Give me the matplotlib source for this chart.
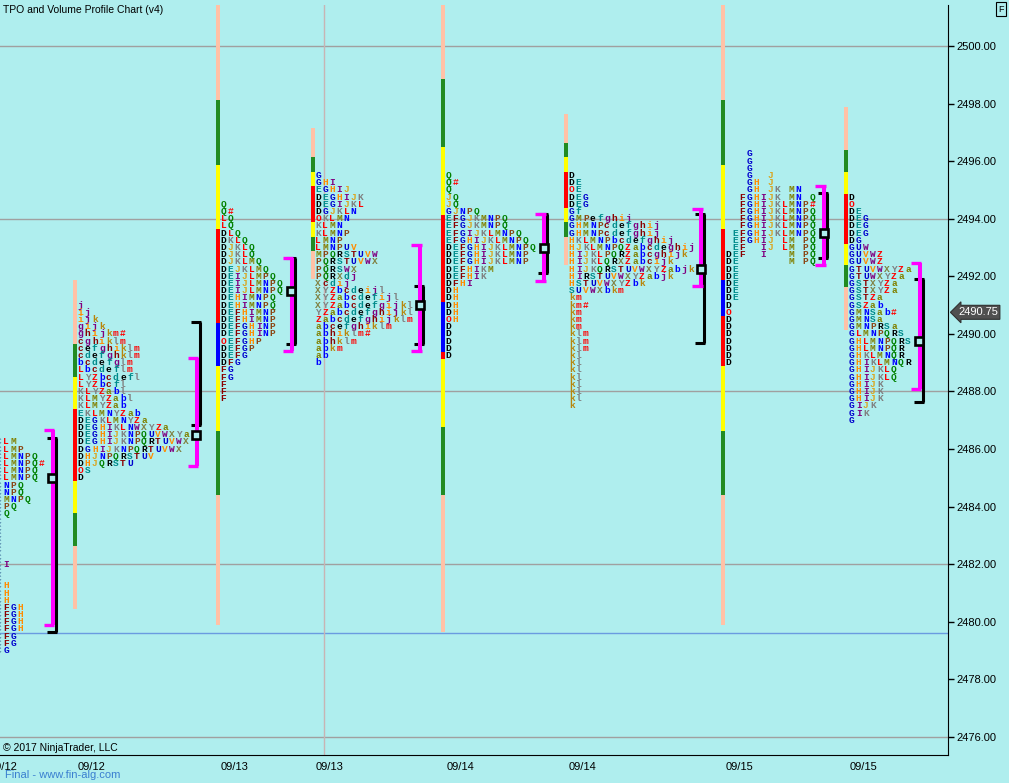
import matplotlib
matplotlib.use("Agg")
import matplotlib.pyplot as plt
from matplotlib.transforms import blended_transform_factory

BG = "#AFEEEE"
TICK = 0.25          # one TPO row = one price tick
COL = 7.03           # width of one letter column (chart x units)

# ---------------- data ----------------
date_labels = ["09/12", "09/12", "09/13", "09/13", "09/14", "09/14", "09/15", "09/15"]
date_pos = [4, 92, 235, 330, 461, 583, 740, 864]

price_ticks = [2476, 2478, 2480, 2482, 2484, 2486, 2488, 2490, 2492, 2494, 2496, 2498, 2500]
grid_prices = [2500, 2494, 2488, 2482, 2476]
ref_price = 2479.6
last_price = 2490.75

# x slot of each profile (first letter column) and of its volume bar
prof_x = [-1.0, 80.7, 223.5, 318.3, 448.3, 571.7, 728.3, 851.7]
bar_x = [None, 75, 218, 313, 443, 566, 723, 846]

# top price of each profile
prof_top = [2486.25, 2491.0, 2494.5, 2495.5, 2495.5, 2495.5, 2496.25, 2494.75]

p1_rows = ["CLM", "CLMP", "CLMNPQ", "CLMNPQ#", "CLMNPQ", "CLMNPQ", "CNPQ", "CNPQ",
           "CMNPQ", "CPQ", "CQ", "C", "C", "C", "C", "C", "C", "CI", "C", "C",
           "CH", "CH", "CH", "CFGH", "CFGH", "CFGH", "CFGH", "CFG", "CFG", "CG"]
p2_rows = ["j", "ij", "ijk", "gijk", "ghijkm#", "cghiklm", "cefghiklm", "cdefghklm",
           "bcdefglm", "Lbcdeflm", "LYZbcdefl", "LYZbcfl", "KLYZabl", "KLMYZabl",
           "KLMYZab", "EKLMNYZab", "DEGKLMNYZa", "DEGHIKLNWXYZa", "DEGHIJKNPQUVWXYa",
           "DEGHIJKNPQRTUVWX", "DGHIJKNPQRTUVWX", "DHJNPQRSTUV", "DHJQRSTU", "OS", "D"]
p3_rows = ["Q", "Q#", "LQ", "LQ", "DLQ", "DKLQ", "DJKLQ", "DJKLQ", "DJKLMQ", "DEJKLMQ",
           "DEIJLMPQ", "DEIJLMNPQ", "DEIJLMNPQ", "DEHIMNPQ", "DEHIMNPQ", "DEFHIMNP",
           "DEFHIMNP", "DEFGHINP", "DEFGHINP", "OEFGHP", "DEFGP", "DEFG", "DFG", "FG",
           "FG", "F", "F", "F"]
p4_rows = ["G", "GHI", "EGHIJ", "DEGHIJK", "DEGIJKL", "DGJKLN", "OKLMN", "KLMN", "KLMNP",
           "LMNP", "LMNPUV", "MPQRSTUVW", "PQRSTUVWX", "PQRSWX", "PQRXdj", "Xcdij",
           "XYZbcdeijl", "XYZabcdefijl", "XYZabcdefgijkl", "YZabcdefghijkl",
           "Zabcdefghijklm", "abcefghiklm", "abhiklm#", "abhklm", "abkm", "ab", "b"]
p5_rows = ["Q", "Q#", "Q", "JQ", "JQ", "GJNPQ", "EFGJKMNPQ", "EFGJKMNPQ", "EFGIJKLMNPQ",
           "EFGHIJKLMNPQ", "DEFGHIJKLMNPQ", "DEFGHIJKLMNP", "DEFGHIJKLMNP", "DEFHIKM",
           "DEFHIK", "DFHI", "DH", "DH", "DH", "DH", "OH", "D", "D", "D", "D", "D"]
p6_rows = ["D", "DE", "OE", "DEG", "DEG", "Gf", "GMPefghij", "GHMNPcdefghij",
           "GHMNPcdefghij", "HKLMNPbcdefghij", "HJKLMNPQZabcdeghij", "HIJKLPQRZabcghijk",
           "HIJKLQRXZabcijk", "HIJKQRSTUVWXYZabjk", "HIRSTUVWXYZabjk", "HSTUVWXYZbk",
           "SUVWXbkm", "km", "km#", "km", "km", "km", "klm", "klm", "klm", "kl", "kl",
           "kl", "kl", "kl", "kl", "kl", "k"]
p7_rows = ["   G", "   G", "   G", "   G  J", "   GH J", "   GH JK MN", "  FGHIJK MN Q",
           "  FGHIJKLMNP#", "  FGHIJKLMNPQ", "  FGHIJKLMNPQ", "  FGHIJKLMNPQ",
           " EFGHIJKLMNPQ", " EFGHIJ LM PQ", " EF  IJ LM PQ", "DEF  I   M PQ",
           "DE       M PQ", "DE", "DE", "DE", "DE", "DE", "D", "O", "D", "D", "D", "D",
           "D", "D", "D"]
p8_rows = ["D", "O", "DE", "DEG", "DEG", "DEG", "DG", "GUW", "GUVWZ", "GUVWZ", "GTUVWXYZa",
           "GTUWXYZa", "GSTXYZa", "GSTXYZa", "GSTZa", "GSZab", "GMNSab#", "GMNSa",
           "GMNPRSa", "GLMNPQRS", "GHLMNPQRS", "GHLMNPQR", "GHKLMNQR", "GHIKLMNQR",
           "GHIJKLQ", "GHIJKLQ", "GHIJK", "GHIJK", "GHIJK", "GIJK", "GIK", "G"]
prof_rows = [p1_rows, p2_rows, p3_rows, p4_rows, p5_rows, p6_rows, p7_rows, p8_rows]

# volume bar: zone boundaries (top -> bottom) and zone codes
bar_edges = [
    None,
    [2491.87, 2489.65, 2488.50, 2487.39, 2484.89, 2483.78, 2482.63, 2480.44],
    [2501.6, 2498.12, 2495.87, 2493.64, 2490.38, 2488.89, 2486.63, 2484.40, 2479.89],
    [2497.15, 2496.14, 2495.62, 2495.14, 2493.89, 2493.37, 2492.88, 2491.91],
    [2501.6, 2498.85, 2496.49, 2494.13, 2491.11, 2489.37, 2489.13, 2486.77, 2484.40, 2479.65],
    [2497.64, 2496.63, 2496.14, 2495.62, 2494.37, 2493.89, 2493.37, 2492.39],
    [2501.6, 2498.12, 2495.87, 2493.64, 2491.87, 2490.62, 2488.89, 2486.63, 2484.40, 2479.89],
    [2497.88, 2496.39, 2495.62, 2494.86, 2493.12, 2492.39, 2491.63, 2490.14],
]
bar_zones = [None, "sgyrygs", "sgyrbygs", "sgyrygs", "sgyrbrygs", "sgyrygs",
             "sgyrbrygs", "sgyrygs"]

# value area (magenta) and range (black) brackets, POC box
va_x = [53, 197, 292, 420.5, 544.5, 701.5, 824.5, 920]
va_top = [2486.65, 2489.15, 2492.65, 2493.10, 2494.15, 2494.35, 2495.15, 2492.45]
va_bot = [2479.90, 2485.40, 2489.40, 2489.40, 2491.85, 2491.65, 2492.40, 2488.10]
rng_top = [2486.40, 2490.40, 2492.65, 2491.65, 2494.15, 2494.15, 2494.90, 2491.90]
rng_bot = [2479.65, 2486.85, 2489.65, 2489.65, 2492.10, 2489.70, 2492.65, 2487.65]
poc = [2485.0, 2486.5, 2491.5, 2491.0, 2493.0, 2492.25, 2493.5, 2489.75]

zone_colors = {"s": "#FFC1A6", "g": "#228B22", "y": "#FFFF00", "r": "#FF0000", "b": "#0000FF"}
letter_colors = {
    "C": "#5A8FB0", "D": "#000000", "E": "#008B8B", "F": "#8B0000", "G": "#0000CD",
    "H": "#FF8C00", "I": "#800080", "J": "#DAA520", "K": "#808080", "L": "#FF0000",
    "M": "#808000", "N": "#0000FF", "O": "#FF0000", "P": "#8B4513", "Q": "#008000",
    "R": "#000000", "S": "#008B8B", "T": "#8B0000", "U": "#0000CD", "V": "#FF8C00",
    "W": "#800080", "X": "#808040", "Y": "#808080", "Z": "#FF0000", "a": "#808000",
    "b": "#0000FF", "c": "#8B0000", "d": "#008B8B", "e": "#000000", "f": "#008B8B",
    "g": "#800080", "h": "#8B0000", "i": "#FF8C00", "j": "#800080", "k": "#B8860B",
    "l": "#808080", "m": "#FF0000", "#": "#FF0000",
}

# ---------------- figure ----------------
W, H = 1009, 783
fig = plt.figure(figsize=(W / 100, H / 100), dpi=100, facecolor=BG)
ax = fig.add_axes([0, 28 / H, 948 / W, 750 / H])
ax.set_facecolor(BG)
px_per_pt = 28.79
ax.set_xlim(0, 948)
ax.set_ylim(2500 - 709 / px_per_pt, 2500 + 41 / px_per_pt)

for p in grid_prices:
    ax.axhline(p, color="#A0A0A0", lw=1.0, zorder=1)
ax.axhline(ref_price, color="#6A9BE0", lw=1.0, zorder=1)
ax.axvline(324, color="#C8B4B4", lw=1.0, zorder=1)

# volume bars
for k in range(len(prof_x)):
    if bar_edges[k] is None:
        continue
    e = bar_edges[k]
    for j, z in enumerate(bar_zones[k]):
        ax.bar(bar_x[k], e[j] - e[j + 1], bottom=e[j + 1], width=4.6,
               color=zone_colors[z], linewidth=0, zorder=2)

# TPO letters
for k in range(len(prof_x)):
    for i, row in enumerate(prof_rows[k]):
        price = prof_top[k] - i * TICK
        for j, ch in enumerate(row):
            if ch == " ":
                continue
            ax.text(prof_x[k] + j * COL, price, ch, color=letter_colors[ch],
                    ha="center", va="center", fontsize=6.8, fontweight="bold",
                    family="Liberation Mono", zorder=3, clip_on=True)

# brackets
for k in range(len(va_x)):
    xm = va_x[k]
    xb = xm + 2.6
    ax.plot([xb, xb], [rng_top[k], rng_bot[k]], color="black", lw=2.2,
            solid_capstyle="butt", zorder=4)
    for yy in (rng_top[k], rng_bot[k]):
        ax.plot([xb - 9, xb + 1], [yy, yy], color="black", lw=2.2,
                solid_capstyle="butt", zorder=4)
    ax.plot([xm, xm], [va_top[k], va_bot[k]], color="#FF00FF", lw=2.9,
            solid_capstyle="butt", zorder=5)
    for yy in (va_top[k], va_bot[k]):
        ax.plot([xm - 9, xm + 1.5], [yy, yy], color="#FF00FF", lw=2.4,
                solid_capstyle="butt", zorder=5)
    ax.plot(xm - 0.5, poc[k], marker="s", ms=5.8, mfc=BG, mec="black", mew=1.9,
            zorder=6)

# axes styling
for side in ("top", "left"):
    ax.spines[side].set_visible(False)
ax.spines["right"].set_color("black")
ax.spines["bottom"].set_color("black")
ax.yaxis.tick_right()
ax.set_yticks(price_ticks)
ax.set_yticklabels([f"{p:.2f}" for p in price_ticks], family="Liberation Sans", fontsize=8)
ax.tick_params(axis="y", length=4.3, width=1, pad=1.5, colors="black")
ax.set_xticks(date_pos)
ax.set_xticklabels(date_labels, family="Liberation Sans", fontsize=8)
ax.tick_params(axis="x", length=0, pad=5)

# last price tag
trans = blended_transform_factory(fig.transFigure, ax.transData)
ax.text(958 / W, last_price, f"{last_price:.2f}", transform=trans, ha="left", va="center",
        color="white", fontsize=8, family="Liberation Sans",
        bbox=dict(boxstyle="larrow,pad=0.18", fc="#505050", ec="#303030", lw=0.8),
        clip_on=False)

fig.text(3 / W, 1 - 10 / H, "TPO and Volume Profile Chart (v4)", ha="left", va="center",
         fontsize=7.5, family="Liberation Sans")
fig.text(3 / W, 1 - 748 / H, "\u00a9 2017 NinjaTrader, LLC", ha="left", va="center",
         fontsize=7.5, family="Liberation Sans")
fig.text(5 / W, 1 - 775 / H, "Final - www.fin-alg.com", ha="left", va="center",
         fontsize=8, family="Liberation Sans", color="#3A7FD0")
fig.text(1001 / W, 1 - 9 / H, "F", ha="center", va="center", fontsize=6.5,
         family="Liberation Sans",
         bbox=dict(boxstyle="square,pad=0.25", fc=BG, ec="black", lw=0.8))

fig.savefig("out.png", dpi=100, facecolor=BG)
